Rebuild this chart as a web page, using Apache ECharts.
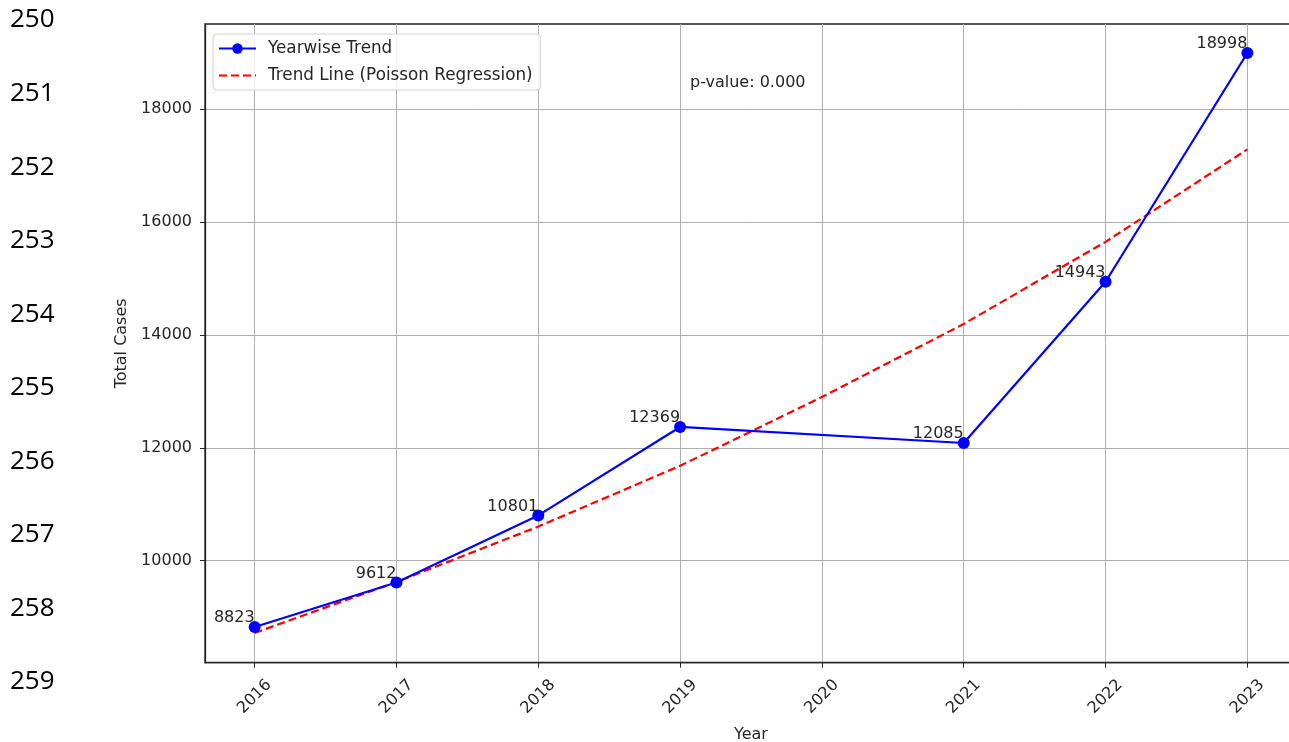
<!DOCTYPE html>
<html>
<head>
<meta charset="utf-8">
<script src="https://cdn.jsdelivr.net/npm/echarts@6/dist/echarts.min.js"></script>
<style>
html,body{margin:0;padding:0;background:#fff;}
#chart{width:1289px;height:742px;}
</style>
</head>
<body>
<div id="chart"></div>
<script>
// ---- data ----
const years = [2016, 2017, 2018, 2019, 2021, 2022, 2023];
const totalCases = [8823, 9612, 10801, 12369, 12085, 14943, 18998];
const trendYears = [2016, 2017, 2018, 2019, 2020, 2021, 2022, 2023];
const trendValues = [8718, 9620, 10603, 11680, 12900, 14195, 15650, 17290];
const xTicks = [2016, 2017, 2018, 2019, 2020, 2021, 2022, 2023];
const yTicks = [10000, 12000, 14000, 16000, 18000];
const lineNumbers = ['250','251','252','253','254','255','256','257','258','259'];
const pValueText = 'p-value: 0.000';

const FONT = 'DejaVu Sans';
const chart = echarts.init(document.getElementById('chart'));

const graphics = lineNumbers.map((t, i) => ({
  type: 'text',
  left: 10,
  top: 19 + i * 73.56 - 12,
  style: { text: t, font: '26px "Open Sans"', fill: '#000' }
}));
graphics.push({
  type: 'text',
  left: 690,
  top: 75,
  style: { text: pValueText, font: '16px "DejaVu Sans"', fill: '#262626' }
});

chart.setOption({
  animation: false,
  backgroundColor: '#fff',
  textStyle: { fontFamily: FONT },
  grid: {
    left: 205, top: 24, width: 1092, height: 638.7,
    outerBoundsMode: 'none', containLabel: false,
    show: true, borderColor: '#222', borderWidth: 1.3, backgroundColor: 'transparent'
  },
  legend: {
    left: 213, top: 34, orient: 'vertical',
    itemWidth: 37, itemHeight: 13, itemGap: 10,
    padding: [6, 8, 6, 5],
    backgroundColor: 'rgba(255,255,255,0.8)',
    borderColor: '#d0d0d0', borderWidth: 1, borderRadius: 4,
    textStyle: { fontFamily: FONT, fontSize: 16.8, color: '#262626', padding: [0, 0, 0, 7] },
    data: [
      { name: 'Yearwise Trend' },
      { name: 'Trend Line (Poisson Regression)', itemStyle: { opacity: 0 } }
    ]
  },
  xAxis: {
    type: 'value', min: 2015.65, max: 2023.35,
    name: 'Year', nameLocation: 'middle', nameGap: 64,
    nameTextStyle: { fontFamily: FONT, fontSize: 16, color: '#262626' },
    axisLine: { show: true, lineStyle: { color: '#222', width: 1.3 } },
    axisTick: { show: true, length: 5, customValues: xTicks, lineStyle: { color: '#222' } },
    axisLabel: {
      customValues: xTicks, rotate: 45, align: 'center', verticalAlign: 'middle',
      margin: 34, fontFamily: FONT, fontSize: 16, color: '#262626',
      formatter: v => String(v)
    },
    splitLine: { show: true, lineStyle: { color: '#b0b0b0', width: 1 } }
  },
  yAxis: {
    type: 'value', min: 8190, max: 19512,
    name: 'Total Cases', nameLocation: 'middle', nameGap: 74, nameRotate: 90,
    nameTextStyle: { fontFamily: FONT, fontSize: 16, color: '#262626' },
    axisLine: { show: true, lineStyle: { color: '#222', width: 1.3 } },
    axisTick: { show: true, length: 5, customValues: yTicks, lineStyle: { color: '#222' } },
    axisLabel: {
      customValues: yTicks, margin: 13, fontFamily: FONT, fontSize: 16, color: '#262626',
      formatter: v => String(v)
    },
    splitLine: { show: true, lineStyle: { color: '#b0b0b0', width: 1 } }
  },
  series: [
    {
      name: 'Yearwise Trend', type: 'line',
      data: years.map((y, i) => [y, totalCases[i]]),
      symbol: 'circle', symbolSize: 12,
      itemStyle: { color: '#0000ff' },
      lineStyle: { color: '#0000ff', width: 2.2 },
      label: {
        show: true, position: [6, 5], align: 'right', verticalAlign: 'bottom',
        fontFamily: FONT, fontSize: 16, color: '#262626',
        formatter: p => String(p.value[1])
      },
      z: 3
    },
    {
      name: 'Trend Line (Poisson Regression)', type: 'line',
      data: trendYears.map((y, i) => [y, trendValues[i]]),
      symbol: 'none',
      itemStyle: { color: '#ff0000' },
      lineStyle: { color: '#ff0000', width: 2.2, type: [8, 4] },
      z: 2
    }
  ],
  graphic: graphics
});
</script>
</body>
</html>
